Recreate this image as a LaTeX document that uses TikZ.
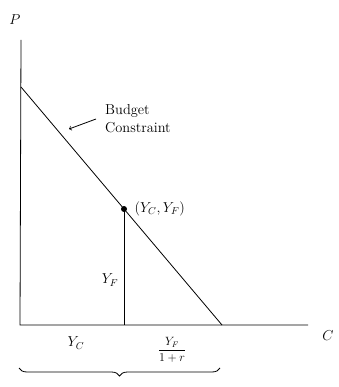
\documentclass[tikz,border=0pt]{standalone}
\usepackage{amsmath}
\usepackage{amssymb}
\usetikzlibrary{decorations.pathreplacing}
\begin{document}
\begin{tikzpicture}[x=1pt,y=-1pt]
\useasboundingbox (0,0) rectangle (338,387);
\coordinate (ptop) at (21,40);
\coordinate (o) at (20,325);
\coordinate (cend) at (308,325);
\coordinate (pint) at (21,87);
\coordinate (cint) at (222,325);
\coordinate (e) at (124,209);
\coordinate (ef) at (124,325);
\coordinate (tip) at (69,129);
\draw [thick] (ptop) -- (o) -- (cend);
\draw [thick] (pint) -- (cint);
\draw [thick] (e) -- (ef);
\fill (e) circle (3);
\node (p) at (15,20) {\Large $P$};
\node (c) at (328,336) {\Large $C$};
\node (bc) [anchor=west, align=left, font=\Large, inner sep=1pt] at (104,119) {Budget\\Constraint};
\draw [thick, ->] ([xshift=-8]bc.west) -- (tip);
\node (pt) [anchor=west] at (131,209) {\Large $(Y_C, Y_F)$};
\node (yf) at (110,280) {\Large $Y_F$};
\node (yc) at (76,343) {\Large $Y_C$};
\node (yfr) at (172,350) {\large $\dfrac{Y_F}{1+r}$};
\draw [thick, decorate, decoration={brace, mirror, amplitude=8}] (19,368) -- (220,368);
\end{tikzpicture}
\end{document}
